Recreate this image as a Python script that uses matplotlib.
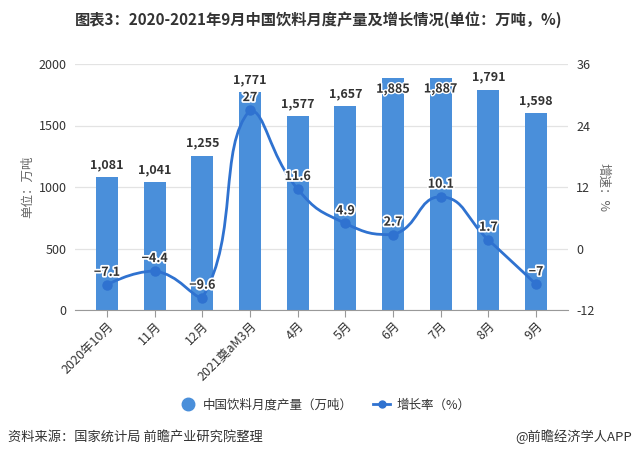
import matplotlib
matplotlib.use("Agg")
import matplotlib.pyplot as plt
import matplotlib.patheffects as pe
from matplotlib.path import Path
from matplotlib.patches import PathPatch
from matplotlib.lines import Line2D
import numpy as np

plt.rcParams['font.family'] = ['Noto Sans CJK SC', 'DejaVu Sans']

categories = ["2020年10月", "11月", "12月", "2021奠aM3月", "4月", "5月", "6月", "7月", "8月", "9月"]
production = [1081, 1041, 1255, 1771, 1577, 1657, 1885, 1887, 1791, 1598]
growth = [-7.1, -4.4, -9.6, 27, 11.6, 4.9, 2.7, 10.1, 1.7, -7]
left_ticks = [0, 500, 1000, 1500, 2000]
right_ticks = [-12, 0, 12, 24, 36]

bar_color = "#4a8fda"
line_color = "#2f72d0"
text_color = "#333333"
grid_color = "#e3e3e3"

fig = plt.figure(figsize=(6.37, 4.58), dpi=100)
ax = fig.add_axes([75/637, 148/458, 493/637, 246/458])
ax2 = ax.twinx()

x = np.arange(len(categories))
ax.bar(x, production, width=0.46, color=bar_color, zorder=2)
ax.set_xlim(-0.67, len(categories) - 1 + 0.67)
ax.set_ylim(0, 2000)
ax.set_yticks(left_ticks)
ax.set_yticklabels([str(t) for t in left_ticks], fontsize=9, color=text_color)
ax.grid(axis='y', color=grid_color, linewidth=0.9, zorder=0)
ax.set_axisbelow(True)
for s in ['top', 'right', 'left']:
    ax.spines[s].set_visible(False)
ax.spines['bottom'].set_color('#999999')
ax.tick_params(axis='y', length=0, pad=6)
ax.tick_params(axis='x', length=5, color='#999999', pad=2)
ax.set_xticks(x)
ax.set_xticklabels(categories, rotation=45, ha='right', rotation_mode='anchor',
                   fontsize=9, color=text_color)
ax.set_ylabel("单位：万吨", fontsize=9, color='#666666', labelpad=3)

ax2.set_ylim(-12, 36)
ax2.set_yticks(right_ticks)
ax2.set_yticklabels([str(t) for t in right_ticks], fontsize=9, color=text_color)
ax2.tick_params(axis='y', length=0, pad=6)
for s in ['top', 'right', 'left', 'bottom']:
    ax2.spines[s].set_visible(False)
ax2.set_ylabel("增速：%", fontsize=9, color='#666666', rotation=-90, labelpad=11)

# bar value labels
for xi, v in zip(x, production):
    if v > 1850:
        ax.annotate(f"{v:,}", (xi, v), xytext=(0, -8), textcoords='offset points',
                    ha='center', va='center', fontsize=9, fontweight='bold', color=text_color,
                    zorder=5, annotation_clip=False,
                    path_effects=[pe.withStroke(linewidth=2, foreground='white')])
    else:
        ax.annotate(f"{v:,}", (xi, v), xytext=(0, 9), textcoords='offset points',
                    ha='center', va='center', fontsize=9, fontweight='bold', color=text_color,
                    zorder=5, annotation_clip=False)

# smooth line, echarts-style bezier (control points clamped between neighbours)
xs = x.astype(float)
ys = np.array(growth, dtype=float)
sx = 493 / 10.34          # px per category
sy = 246 / 48.0           # px per percent
P = np.column_stack([xs * sx, ys * sy])
n = len(P)
smooth = 0.5
cp_in = [None] * n
cp_out = [None] * n
for i in range(n):
    p = P[i]
    if i == 0 or i == n - 1:
        cp_in[i] = p.copy()
        cp_out[i] = p.copy()
        continue
    prev, nxt = P[i - 1], P[i + 1]
    v = nxt - prev
    d0 = np.hypot(*(p - prev))
    d1 = np.hypot(*(nxt - p))
    r = d1 / (d0 + d1)
    c_in = p - v * smooth * (1 - r)
    c_out = p + v * smooth * r
    c_out = np.minimum(c_out, np.maximum(nxt, p))
    c_out = np.maximum(c_out, np.minimum(nxt, p))
    c_in = np.minimum(c_in, np.maximum(prev, p))
    c_in = np.maximum(c_in, np.minimum(prev, p))
    cp_in[i] = c_in
    cp_out[i] = c_out

def to_data(q):
    return (q[0] / sx, q[1] / sy)

verts = [to_data(P[0])]
codes = [Path.MOVETO]
for i in range(n - 1):
    verts += [to_data(cp_out[i]), to_data(cp_in[i + 1]), to_data(P[i + 1])]
    codes += [Path.CURVE4] * 3
patch = PathPatch(Path(verts, codes), facecolor='none', edgecolor=line_color,
                  linewidth=2, zorder=3)
ax2.add_patch(patch)
ax2.plot(x, growth, linestyle='none', marker='o', markersize=6.5,
         color=line_color, zorder=4)

for xi, v in zip(x, growth):
    lbl = f"{v:g}".replace('-', '−')
    ax2.annotate(lbl, (xi, v), xytext=(0, 9), textcoords='offset points',
                 ha='center', va='center', fontsize=9, fontweight='bold', color=text_color,
                 zorder=6,
                 path_effects=[pe.withStroke(linewidth=2.5, foreground='white')])

# title
fig.text(0.5, 1 - 20/458, "图表3：2020-2021年9月中国饮料月度产量及增长情况(单位：万吨，%)",
         ha='center', va='center', fontsize=11, fontweight='bold', color=text_color)

# legend
handles = [
    Line2D([], [], linestyle='none', marker='o', markersize=9, color=bar_color),
    Line2D([], [], color=line_color, linewidth=2, marker='o', markersize=5),
]
labels = ["中国饮料月度产量（万吨）", "增长率（%）"]
fig.legend(handles, labels, loc='center', bbox_to_anchor=(0.51, 1 - 405/458),
           ncol=2, frameon=False, fontsize=9, handlelength=1.4, columnspacing=1.6,
           handletextpad=0.5, labelcolor=text_color)

# footer
fig.text(8/637, 1 - 437/458, "资料来源：国家统计局 前瞻产业研究院整理",
         ha='left', va='center', fontsize=9.5, color=text_color)
fig.text(632/637, 1 - 437/458, "@前瞻经济学人APP",
         ha='right', va='center', fontsize=9.5, color=text_color)

fig.savefig("out.png", dpi=100)
